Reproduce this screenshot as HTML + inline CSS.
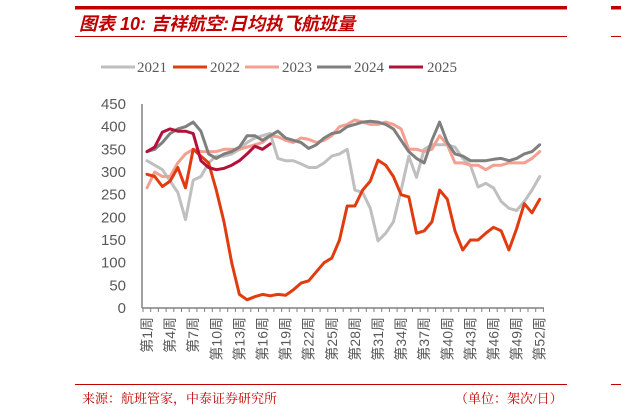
<!DOCTYPE html>
<html><head><meta charset="utf-8"><style>
body{margin:0;background:#fff;width:621px;height:414px;overflow:hidden}
svg{display:block}
</style></head><body>
<svg id="s" width="621" height="414" xmlns="http://www.w3.org/2000/svg">
<rect x="75" y="6" width="492" height="3.5" fill="#c00000"/>
<rect x="611" y="6" width="10" height="3.5" fill="#c00000"/>
<text x="79" y="30" font-family="'Liberation Sans','Noto Sans CJK SC',sans-serif" font-size="18" font-style="italic" font-weight="bold" fill="#c00000">图表 10:  吉祥航空:日均执飞航班量</text>
<rect x="75" y="36" width="492" height="1" fill="#c00000"/>
<rect x="611" y="36" width="10" height="1" fill="#c00000"/>
<g font-family="'Liberation Serif',serif" font-size="15" fill="#595959">
<line x1="101" y1="67" x2="135" y2="67" stroke="#bfbfbf" stroke-width="3"/><text x="137" y="72">2021</text>
<line x1="173" y1="67" x2="207" y2="67" stroke="#e03c10" stroke-width="3"/><text x="210" y="72">2022</text>
<line x1="245" y1="67" x2="279" y2="67" stroke="#f4a090" stroke-width="3"/><text x="282" y="72">2023</text>
<line x1="317" y1="67" x2="351" y2="67" stroke="#7f7f7f" stroke-width="3"/><text x="354" y="72">2024</text>
<line x1="389" y1="67" x2="423" y2="67" stroke="#b5103a" stroke-width="3"/><text x="427" y="72">2025</text>
</g>
<g id="ax" font-family="'Liberation Sans',sans-serif" font-size="15" fill="#595959" text-anchor="end"></g>
<g id="lines" fill="none" stroke-linejoin="round" stroke-linecap="round"></g>
<rect x="75" y="384" width="492" height="1" fill="#c00000"/>
<rect x="611" y="384" width="10" height="1" fill="#c00000"/>
<text x="82" y="403" font-family="'Liberation Serif','Noto Serif CJK SC',serif" font-size="13" fill="#c00000">来源：航班管家，中泰证券研究所</text>
<text x="455" y="403" font-family="'Liberation Serif','Noto Serif CJK SC',serif" font-size="13" fill="#c00000">（单位：架次/日）</text>
</svg>
<script>
const NS="http://www.w3.org/2000/svg";
const X=w=>147+(w-1)*7.7, Y=v=>308-v*0.4533;
const ax=document.getElementById('ax'), L=document.getElementById('lines');
function el(t,a,p,txt){const e=document.createElementNS(NS,t);for(const k in a)e.setAttribute(k,a[k]);if(txt)e.textContent=txt;p.appendChild(e);return e;}
for(let v=0;v<=450;v+=50){el('text',{x:126,y:Y(v)+5},ax,String(v));}
el('line',{x1:142,y1:Y(450),x2:142,y2:308,stroke:'#808080','stroke-width':1.5},ax);
el('line',{x1:142,y1:308,x2:544,y2:308,stroke:'#808080','stroke-width':1.5},ax);
for(let w=0;w<=52;w++){const x=143+w*7.7;el('line',{x1:x,y1:308,x2:x,y2:312,stroke:'#808080','stroke-width':1},ax);}
for(let w=1;w<=52;w+=3){const x=X(w)+5;el('text',{x:0,y:0,transform:`translate(${x},317) rotate(-90)`,'font-family':"'Liberation Sans','Noto Sans CJK SC',sans-serif",'font-size':14,'text-anchor':'end'},ax,'第'+w+'周');}
const d={
'#bfbfbf':[325,315,305,280,255,195,282,290,320,335,335,340,350,365,375,380,385,330,325,325,318,310,310,320,335,340,350,260,255,220,148,165,190,260,335,288,350,360,360,360,355,330,315,267,275,265,235,220,215,235,260,290],
'#f4a090':[265,300,290,290,320,340,350,345,345,345,350,350,350,355,360,365,380,378,370,365,375,372,365,370,380,400,405,415,410,405,405,410,405,395,350,350,345,350,380,360,320,320,315,315,305,315,315,320,320,320,330,345],
'#7f7f7f':[345,350,365,385,395,400,410,390,340,330,340,345,355,380,380,370,380,390,375,370,365,352,360,375,385,388,400,405,410,412,410,405,395,370,345,330,320,370,410,365,340,335,325,325,325,328,330,325,330,340,345,360],
'#e03c10':[295,290,268,280,310,265,350,335,320,260,190,100,30,18,25,30,27,30,28,40,55,60,80,100,110,150,225,225,260,280,326,315,290,250,245,165,170,190,260,240,170,128,150,150,165,178,170,128,175,230,210,240],
'#b5103a':[345,355,388,395,390,390,385,325,310,305,308,315,325,340,357,350,362]
};
for(const c in d){el('polyline',{points:d[c].map((v,i)=>X(i+1).toFixed(1)+','+Y(v).toFixed(1)).join(' '),stroke:c,'stroke-width':3},L);}
</script>
</body></html>
